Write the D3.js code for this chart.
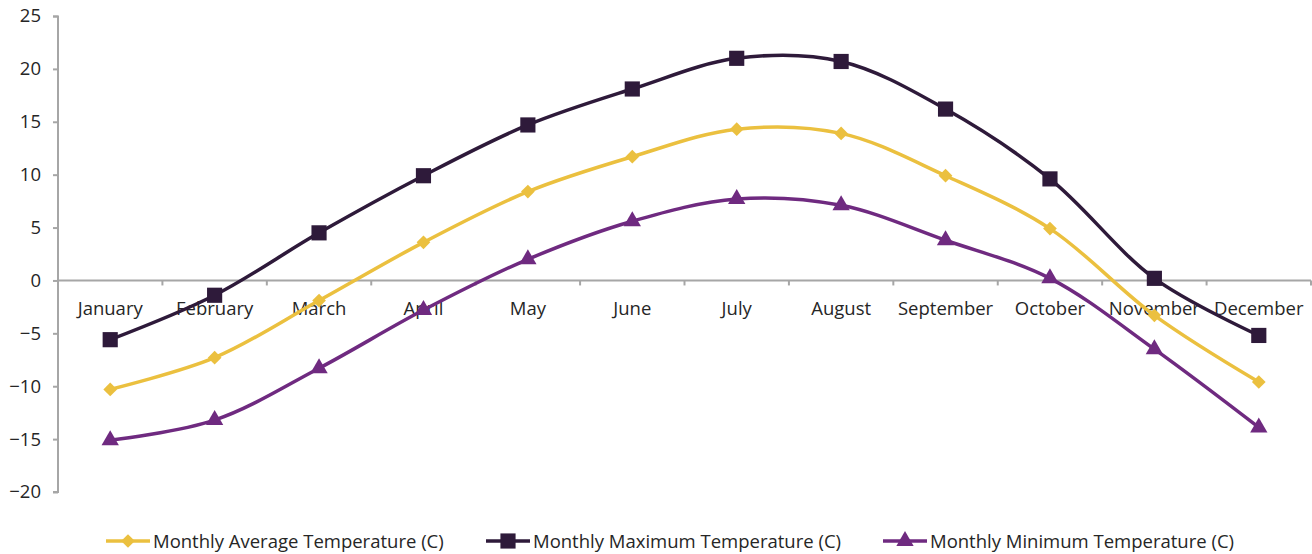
<!DOCTYPE html>
<html><head><meta charset="utf-8">
<script src="https://cdn.jsdelivr.net/npm/d3@7"></script>
<style>body{margin:0;background:#fff}svg{display:block}text{font-family:"Open Sans","Liberation Sans",sans-serif;fill:#262626}</style>
</head><body><svg id="c" width="1312" height="554"></svg>
<script>
const months = ["January","February","March","April","May","June","July","August","September","October","November","December"];
const avgTemp = [-10.3,-7.3,-1.9,3.6,8.4,11.7,14.3,13.9,9.9,4.9,-3.3,-9.6];
const maxTemp = [-5.6,-1.4,4.5,9.9,14.7,18.1,21.0,20.7,16.2,9.6,0.2,-5.2];
const minTemp = [-15.1,-13.2,-8.3,-2.8,2.0,5.6,7.7,7.1,3.8,0.2,-6.5,-13.9];
const yTicks = [-20,-15,-10,-5,0,5,10,15,20,25];
const seriesNames = ["Monthly Average Temperature (C)","Monthly Maximum Temperature (C)","Monthly Minimum Temperature (C)"];

const svg = d3.select("#c");
const x = d3.scaleBand().domain(months).range([58,1311]);
const y = d3.scaleLinear().domain([-20,25]).range([492,16]);
const axisColor = "#a6a6a6";
const fs = "18.5px";

// y axis
const ya = svg.append("g").attr("transform","translate(58,0)")
  .call(d3.axisLeft(y).tickValues(yTicks).tickSize(5).tickPadding(12).tickFormat(d3.format("d")));
ya.select(".domain").attr("stroke",axisColor).attr("stroke-width",2).attr("d","M-5,16.5H0V492H-5");
ya.selectAll(".tick line").attr("stroke",axisColor).attr("stroke-width",2);
ya.selectAll(".tick text").style("font-size",fs).attr("fill","#262626");

// x axis at 0
const xa = svg.append("g").attr("transform",`translate(0,${y(0)})`)
  .call(d3.axisBottom(x).tickSize(0).tickPadding(21));
xa.select(".domain").attr("stroke",axisColor).attr("stroke-width",2).attr("d","M58,0H1311");
xa.selectAll(".tick text").style("font-size",fs).attr("fill","#262626");
const bounds = months.map(m=>x(m)).concat([1311]).slice(1);
xa.selectAll(".bt").data(bounds).enter().append("line")
  .attr("x1",d=>d).attr("x2",d=>d).attr("y1",0).attr("y2",5)
  .attr("stroke",axisColor).attr("stroke-width",2);

const cx = m => x(m) + x.bandwidth()/2;
const line = d3.line().x((d,i)=>cx(months[i])).y(d=>y(d)).curve(d3.curveCatmullRom.alpha(0.5));

const series = [
  {name:seriesNames[0], data:avgTemp, color:"#ebc03f", sym:d3.symbolDiamond2, size:120},
  {name:seriesNames[1], data:maxTemp, color:"#2e1a3a", sym:d3.symbolSquare, size:230},
  {name:seriesNames[2], data:minTemp, color:"#6f2a80", sym:d3.symbolTriangle, size:130},
];
[series[2],series[0],series[1]].forEach(s=>{
  svg.append("path").attr("d",line(s.data)).attr("fill","none").attr("stroke",s.color).attr("stroke-width",3.5);
  svg.selectAll(null).data(s.data).enter().append("path")
    .attr("d",d3.symbol().type(s.sym).size(s.size))
    .attr("transform",(d,i)=>`translate(${cx(months[i])},${y(d)})`)
    .attr("fill",s.color);
});

// legend
const legX = [106,486,883];
series.forEach((s,i)=>{
  const g = svg.append("g").attr("transform",`translate(${legX[i]},541)`);
  g.append("line").attr("x1",0).attr("x2",44).attr("stroke",s.color).attr("stroke-width",3.5);
  g.append("path").attr("d",d3.symbol().type(s.sym).size(s.size)).attr("transform","translate(22,0)").attr("fill",s.color);
  g.append("text").attr("x",47).attr("y",7).style("font-size",fs).text(s.name);
});
</script></body></html>
